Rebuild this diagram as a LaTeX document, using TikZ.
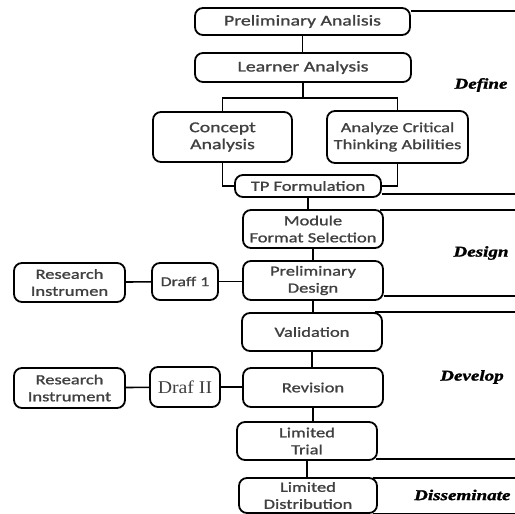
\documentclass[tikz,border=0pt]{standalone}
\usepackage{fontspec}
\newfontfamily\boxfont[FakeStretch=1.32,FakeBold=1.2]{Carlito}
\newfontfamily\phasefont[FakeStretch=1.27,FakeBold=1.5]{Liberation Serif}
\newfontfamily\draffont[FakeStretch=1.1]{Liberation Serif}
\tikzset{
  stage/.style={draw, rounded corners=8pt, line width=1.8pt, inner sep=0pt,
    align=center, text=black!75, font=\boxfont\fontsize{14}{17}\selectfont},
  link/.style={line width=1.6pt},
  phaselabel/.style={font=\phasefont\bfseries\itshape\fontsize{15}{18}\selectfont},
}
\begin{document}
\begin{tikzpicture}[x=1pt,y=1pt]
\useasboundingbox (0,0) rectangle (515,-514);
\coordinate (rim) at (515,0);

% main column
\foreach \name/\x/\y/\w/\h/\s/\text in {
    pa/302.5/-21.5/215/27/15/{Preliminary Analisis},
    la/303/-67.5/216/29/15/{Learner Analysis},
    ca/222.5/-137/139/50/15/{Concept\\Analysis},
    act/397.5/-137/141/52/14/{Analyze Critical\\Thinking Abilities},
    tp/308/-186/146/22/14/{TP Formulation},
    mfs/313/-229/140/38/14/{Module\\Format Selection},
    pd/313/-280.5/140/39/14/{Preliminary\\Design},
    val/312/-332/140/38/14/{Validation},
    rev/313/-387.5/140/39/14/{Revision},
    lt/307/-441/140/38/14/{Limited\\Trial},
    ld/308/-495.5/138/35/14/{Limited\\Distribution}} {
    \node[stage, minimum width=\w pt, minimum height=\h pt,
      font=\boxfont\fontsize{\s}{17}\selectfont] (\name) at (\x,\y) {\text};
}

% drafts and instruments (left)
\node[stage, minimum width=111pt, minimum height=39pt] (ri1) at (69.5,-282.5) {Research\\Instrumen};
\node[stage, minimum width=66pt, minimum height=37pt,
  font=\boxfont\fontsize{13.5}{16}\selectfont] (d1) at (185,-281.5) {Draff 1};
\node[stage, minimum width=111pt, minimum height=40pt] (ri2) at (69.5,-388) {Research\\Instrument};
\node[stage, minimum width=70pt, minimum height=40pt,
  font=\draffont\fontsize{18}{20}\selectfont] (d2) at (185,-387) {Draf II};

% vertical links
\foreach \a/\b in {pa/la, tp/mfs, mfs/pd, pd/val, val/rev, rev/lt, lt/ld} {
    \draw[link] (\a.south) -- (\a.south |- \b.north);
}
\draw[link] (la.south) -- ++(0,-15) coordinate (split);
\draw[link] (ca.north) |- (split) -| (act.north);
\draw[link] (ca.south) |- (tp.west);
\draw[link] (act.south) |- (tp.east);

% side links
\draw[link] (ri1) -- (d1);
\draw[link] (d1.east) -- (d1.east -| pd.west);
\draw[link] (ri2) -- (d2);
\draw[link] (d2.east) -- (d2.east -| rev.west);

% phase borders
\foreach \nd/\dx/\dy in {
    pa.north east/0/-4,
    tp.south east/0/4,
    mfs.north east/-4/-1,
    pd.south east/0/5,
    val.north east/-8/0,
    lt.south east/-2/2,
    ld.north east/-5/-1,
    ld.south east/-5/0} {
    \draw[link] ([xshift=\dx pt,yshift=\dy pt]\nd) -- ([yshift=\dy pt]\nd -| rim);
}

% phases
\node[phaselabel] (define) at (481,-85) {Define};
\node[phaselabel] (design) at (481,-253) {Design};
\node[phaselabel] (develop) at (472,-377) {Develop};
\node[phaselabel, anchor=east] (disseminate) at (514,-495) {Disseminate};
\end{tikzpicture}
\end{document}
